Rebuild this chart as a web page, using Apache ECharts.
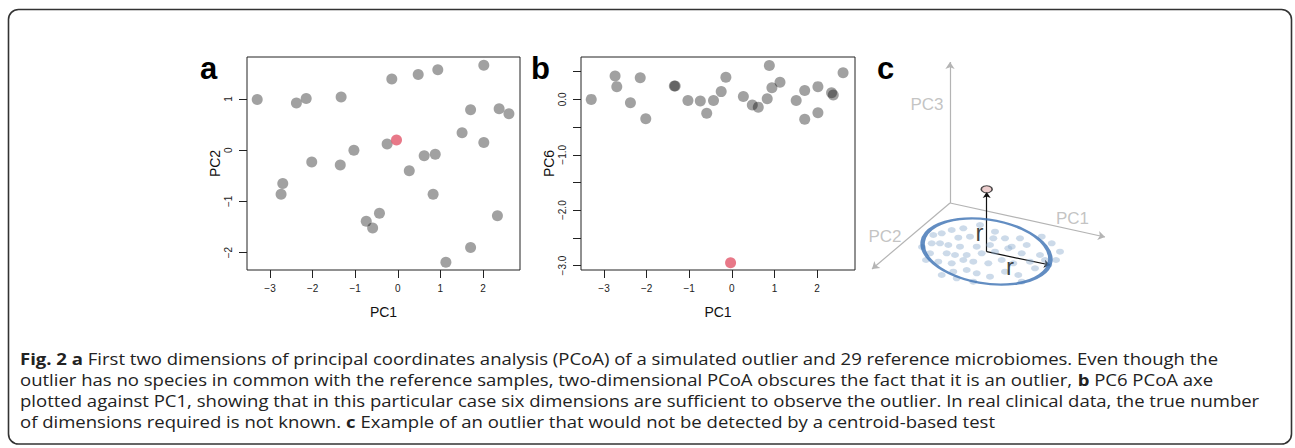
<!DOCTYPE html>
<html><head><meta charset="utf-8">
<script src="https://cdn.jsdelivr.net/npm/echarts@6/dist/echarts.min.js"></script>
<style>html,body{margin:0;padding:0;background:#fff}#c{width:1295px;height:448px}</style>
</head><body><div id="c"></div>
<script>
// ---- Panel a / b data: 29 reference microbiomes (PC1, PC2, PC6) ----
const pc1 = [-3.30, -2.38, -2.15, -1.33, -0.14, 0.48, 0.94, 2.02, 1.71, 2.38, 2.61, 1.51, 2.02, -0.25, -1.03, -2.02, -1.35, 0.62, 0.88, 0.27, -2.70, -2.74, 0.83, -0.43, -0.74, -0.59, 2.34, 1.71, 1.13];
const pc2 = [0.99, 0.92, 1.01, 1.04, 1.39, 1.48, 1.57, 1.66, 0.79, 0.81, 0.71, 0.34, 0.15, 0.12, 0.00, -0.23, -0.29, -0.11, -0.08, -0.40, -0.65, -0.86, -0.86, -1.23, -1.39, -1.52, -1.28, -1.90, -2.19];
const pc6 = [0.00, -0.06, 0.39, 0.24, 0.40, -0.10, 0.21, 0.23, 0.16, 0.08, 0.48, -0.02, -0.24, 0.14, -0.02, -0.35, 0.24, -0.14, 0.61, 0.05, 0.23, 0.42, 0.01, -0.02, -0.03, -0.25, 0.12, -0.36, 0.31];
// simulated outlier
const outlierPC1 = -0.03, outlierPC2 = 0.20, outlierPC6 = -2.95;

// tick values
const pc1Ticks = [-3, -2, -1, 0, 1, 2];
const pc2Ticks = [-2, -1, 0, 1];
const pc6Ticks = [-3, -2.5, -2, -1.5, -1, -0.5, 0, 0.5];
const pc6Labels = [-3, -2, -1, 0];

// ---- Panel c schematic (local units) ----
const cloudPoints = [[73.3,65],[81.7,66.7],[91.7,70],[103.3,71.7],[120,75],[98.3,62.3],[110,63.3],[133.3,61.7],[135,68.3],[145,61.7],[160,61.7],
 [71.7,56.7],[80,56.7],[88.3,55],[100,53.3],[116.7,53.3],[130,55],[151.7,53.3],[166.7,55],[181.7,63.3],[191.7,56.7],
 [70,46.7],[86.7,46.7],[95,45],[106.7,45],[121.7,46.7],[135,48.3],[148.3,51.7],[161.7,46.7],[180,45],[200,48.3],
 [78.3,38.3],[91.7,36.7],[103.3,40],[113.3,38.3],[128.3,36.7],[141.7,40],[153.3,36.7],[170,38.3],[185,40],
 [81.7,25],[93.3,28.3],[106.7,30],[116.7,26.7],[130,23.3],[145,28.3],[158.3,25],[175,31.7],[188.3,35],
 [96.7,21.7],[113.3,18.3],[161.7,18.3],[62,53],[196,40],[66,40]];
const axisSegments = [[[90,97],[90,238]], [[90,97],[245,63]], [[90,97],[12,31]]];
const axisNames = [{name:'PC3', value:[67,195.5]}, {name:'PC1', value:[212.5,81.7]}, {name:'PC2', value:[25,64]}];
const cloudCentre = [126.5, 48.5];
const outlierC = [126.7, 110.7];
const radiusSegments = [[[126.7,48.3],[126.7,108]], [[126.7,48.3],[190,35]]];
const radiusLabels = [{name:'r', value:[119.5,68]}, {name:'r', value:[150,33.5]}];

const captionLines = [
 '{b|Fig. 2 a} First two dimensions of principal coordinates analysis (PCoA) of a simulated outlier and 29 reference microbiomes. Even though the',
 'outlier has no species in common with the reference samples, two-dimensional PCoA obscures the fact that it is an outlier, {b|b} PC6 PCoA axe',
 'plotted against PC1, showing that in this particular case six dimensions are sufficient to observe the outlier. In real clinical data, the true number',
 'of dimensions required is not known. {b|c} Example of an outlier that would not be detected by a centroid-based test'
];
const captionY = [359, 380, 401.5, 422];

// caption: Open Sans, stretched horizontally so the longest line spans the caption width
const CAP_FONT = 'Open Sans';
const CAP_SIZE = 15.6;
const capCtx = document.createElement('canvas').getContext('2d');
capCtx.font = CAP_SIZE + 'px "' + CAP_FONT + '"';
const capScaleX = 1240 / capCtx.measureText(captionLines[2]).width;

const AX = 'Liberation Sans';
const minus = v => (v < 0 ? '\u2212' : '') + Math.abs(v);
const minus1 = v => (v < 0 ? '\u2212' : '') + Math.abs(v).toFixed(1);

function xAx(gi, min, max) {
  return { gridIndex: gi, type: 'value', min, max,
    axisLine: { show: false, onZero: false }, splitLine: { show: false },
    axisTick: { show: true, length: 8, customValues: pc1Ticks, lineStyle: { color: '#222', width: 1 } },
    axisLabel: { customValues: pc1Ticks, formatter: minus, margin: 13, fontSize: 10, color: '#222', fontFamily: AX },
    name: 'PC1', nameLocation: 'middle', nameGap: 35,
    nameTextStyle: { fontSize: 14, color: '#111', fontFamily: AX } };
}
function yAx(gi, min, max, ticks, labels, fmt, name) {
  return { gridIndex: gi, type: 'value', min, max,
    axisLine: { show: false, onZero: false }, splitLine: { show: false },
    axisTick: { show: true, length: 8, customValues: ticks, lineStyle: { color: '#222', width: 1 } },
    axisLabel: { customValues: labels, formatter: fmt, rotate: 90, margin: 14, fontSize: 10, color: '#222', fontFamily: AX },
    name, nameLocation: 'middle', nameGap: 24, nameRotate: 90,
    nameTextStyle: { fontSize: 14, color: '#111', fontFamily: AX } };
}
const hidden = (gi) => ({ gridIndex: gi, type: 'value', min: 0, max: 260, show: false, splitLine: { show: false }, axisLine: { onZero: false } });

const grey = 'rgba(0,0,0,0.46)', red = '#E2566A';

const option = {
  animation: false,
  backgroundColor: '#fff',
  grid: [
    { left: 247, top: 57, width: 273, height: 213, show: true, borderColor: '#222', borderWidth: 1 },
    { left: 581, top: 57, width: 274, height: 213, show: true, borderColor: '#222', borderWidth: 1 },
    { left: 860, top: 40, width: 260, height: 260, show: false }
  ],
  xAxis: [ xAx(0, -3.54, 2.87), xAx(1, -3.54, 2.89), hidden(2) ],
  yAxis: [
    yAx(0, -2.34, 1.82, pc2Ticks, pc2Ticks, minus, 'PC2'),
    yAx(1, -3.08, 0.765, pc6Ticks, pc6Labels, minus1, 'PC6'),
    hidden(2)
  ],
  series: [
    { type: 'scatter', xAxisIndex: 0, yAxisIndex: 0, silent: true, symbolSize: 11,
      itemStyle: { color: grey }, data: pc1.map((x, i) => [x, pc2[i]]) },
    { type: 'scatter', xAxisIndex: 0, yAxisIndex: 0, silent: true, symbolSize: 11,
      itemStyle: { color: red }, data: [[outlierPC1, outlierPC2]] },
    { type: 'scatter', xAxisIndex: 1, yAxisIndex: 1, silent: true, symbolSize: 11,
      itemStyle: { color: grey }, data: pc1.map((x, i) => [x, pc6[i]]) },
    { type: 'scatter', xAxisIndex: 1, yAxisIndex: 1, silent: true, symbolSize: 11,
      itemStyle: { color: red }, data: [[outlierPC1, outlierPC6]] },
    // panel c
    { type: 'lines', coordinateSystem: 'cartesian2d', xAxisIndex: 2, yAxisIndex: 2, silent: true,
      symbol: ['none', 'arrow'], symbolSize: 7,
      lineStyle: { color: '#b4b4b4', width: 1.2, opacity: 1 },
      data: axisSegments.map(s => ({ coords: s })) },
    { type: 'scatter', xAxisIndex: 2, yAxisIndex: 2, silent: true, symbolSize: [8, 6],
      itemStyle: { color: 'rgba(140,170,205,0.55)' }, data: cloudPoints },
    { type: 'scatter', xAxisIndex: 2, yAxisIndex: 2, silent: true, symbol: 'circle',
      symbolSize: [129, 64], symbolRotate: -9,
      itemStyle: { color: 'rgba(0,0,0,0)', borderColor: '#3b70b3', borderWidth: 3.2 }, data: [cloudCentre] },
    { type: 'lines', coordinateSystem: 'cartesian2d', xAxisIndex: 2, yAxisIndex: 2, silent: true,
      symbol: ['none', 'arrow'], symbolSize: 6,
      lineStyle: { color: '#111', width: 1.2, opacity: 1 },
      data: radiusSegments.map(s => ({ coords: s })) },
    { type: 'scatter', xAxisIndex: 2, yAxisIndex: 2, silent: true, symbolSize: [11, 7],
      itemStyle: { color: '#e8c2c2', borderColor: '#222', borderWidth: 1.3 }, data: [outlierC] },
    { type: 'scatter', xAxisIndex: 2, yAxisIndex: 2, silent: true, symbolSize: 1,
      itemStyle: { color: 'rgba(0,0,0,0)' },
      label: { show: true, position: 'inside', formatter: p => p.name, fontSize: 17, color: '#b4b4b4', fontFamily: AX },
      data: axisNames },
    { type: 'scatter', xAxisIndex: 2, yAxisIndex: 2, silent: true, symbolSize: 1,
      itemStyle: { color: 'rgba(0,0,0,0)' },
      label: { show: true, position: 'inside', formatter: p => p.name, fontSize: 24, color: '#111', fontFamily: AX },
      data: radiusLabels }
  ],
  graphic: [
    { type: 'rect', silent: true, shape: { x: 8.5, y: 9.5, width: 1283, height: 434.5, r: 10 },
      style: { fill: 'none', stroke: '#333', lineWidth: 1.6 } },
    { type: 'text', x: 200, y: 53, style: { text: 'a', fontSize: 31, fontWeight: 'bold', fontFamily: AX, fill: '#000', verticalAlign: 'alphabetic' } },
    { type: 'text', x: 531, y: 53, style: { text: 'b', fontSize: 31, fontWeight: 'bold', fontFamily: AX, fill: '#000', verticalAlign: 'alphabetic' } },
    { type: 'text', x: 877, y: 53, style: { text: 'c', fontSize: 31, fontWeight: 'bold', fontFamily: AX, fill: '#000', verticalAlign: 'alphabetic' } },
    ...captionLines.map((t, i) => ({
      type: 'text', x: 20, y: captionY[i], scaleX: capScaleX,
      style: { text: t, fontSize: CAP_SIZE, fontFamily: CAP_FONT, fill: '#222', verticalAlign: 'middle', lineHeight: 20,
        rich: { b: { fontSize: CAP_SIZE, fontFamily: CAP_FONT, fontWeight: 'bold', fill: '#222', lineHeight: 20 } } }
    }))
  ]
};
const chart = echarts.init(document.getElementById('c'), null, { renderer: 'svg' });
chart.setOption(option);
</script></body></html>
